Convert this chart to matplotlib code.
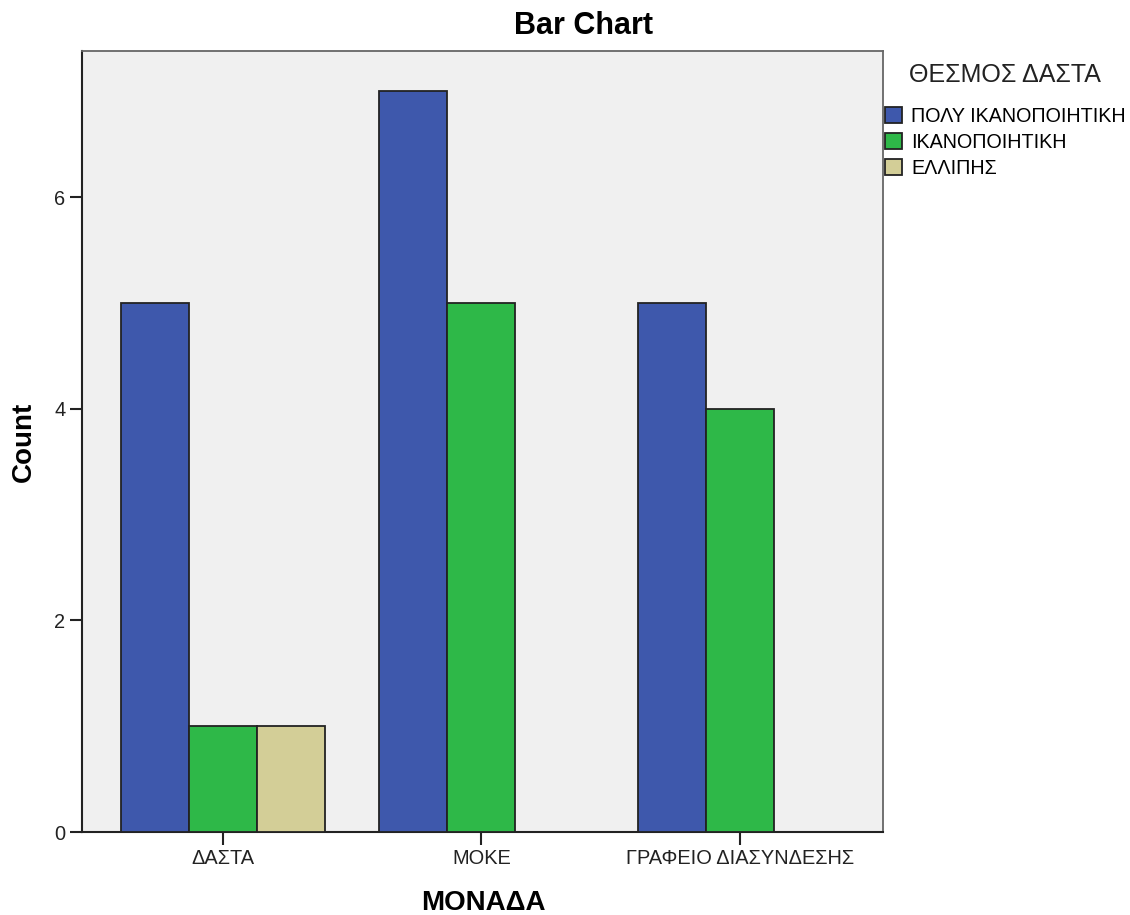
import numpy as np
import matplotlib
matplotlib.use("Agg")
import matplotlib.pyplot as plt

plt.rcParams["font.family"] = ["Liberation Sans", "DejaVu Sans"]

# Data
units = ["ΔΑΣΤΑ", "ΜΟΚΕ", "ΓΡΑΦΕΙΟ ΔΙΑΣΥΝΔΕΣΗΣ"]
ratings = ["ΠΟΛΥ ΙΚΑΝΟΠΟΙΗΤΙΚΗ", "ΙΚΑΝΟΠΟΙΗΤΙΚΗ", "ΕΛΛΙΠΗΣ"]
very_good = [5, 7, 5]
good = [1, 5, 4]
poor = [1, 0, 0]
counts = [very_good, good, poor]
colors = ["#3E58AC", "#2EB848", "#D3CE97"]

fig = plt.figure(figsize=(11.3, 9.15), dpi=100)
ax = fig.add_axes([82 / 1130, 1 - 832 / 915, (883 - 82) / 1130, (832 - 51) / 915])
ax.set_facecolor("#F0F0F0")

x = np.arange(len(units))
width = 0.263
handles = []
for i, (vals, col, lab) in enumerate(zip(counts, colors, ratings)):
    offset = (i - 1) * width
    # SPSS leaves the slot empty when a count is zero
    xs = [xi + offset for xi, v in zip(x, vals) if v > 0]
    hs = [v for v in vals if v > 0]
    b = ax.bar(xs, hs, width=width, color=col, edgecolor="#222222",
               linewidth=1.3, label=lab, zorder=3)
    handles.append(b)

ax.set_xlim(-0.545, 2.553)
ax.set_ylim(0, 7.38)
ax.set_xticks(x)
ax.set_xticklabels(units, fontsize=14.4, color="#222222")
ax.set_yticks([0, 2, 4, 6])
ax.set_yticklabels(["0", "2", "4", "6"], fontsize=14.4, color="#222222")
ax.tick_params(axis="both", length=9, width=1.5, color="#222222", pad=3)

for side in ["left", "bottom"]:
    ax.spines[side].set_color("#222222")
    ax.spines[side].set_linewidth(1.5)
for side in ["top", "right"]:
    ax.spines[side].set_color("#666666")
    ax.spines[side].set_linewidth(1.3)

fig.text(583 / 1130, 1 - 26 / 915, "Bar Chart", fontsize=22, fontweight="bold",
         ha="center", va="center")
fig.text(24 / 1130, 1 - 442 / 915, "Count", fontsize=20, fontweight="bold",
         ha="center", va="center", rotation=90)
fig.text(483 / 1130, 1 - 903 / 915, "ΜΟΝΑΔΑ", fontsize=20, fontweight="bold",
         ha="center", va="center")

# legend
fig.text(909 / 1130, 1 - 75 / 915, "ΘΕΣΜΟΣ ΔΑΣΤΑ", fontsize=18, color="#222222",
         ha="left", va="center")
fig.legend(handles=handles, labels=ratings, loc="upper left",
           bbox_to_anchor=(885 / 1130, 1 - 107 / 915), frameon=False,
           fontsize=14.2, handlelength=0.87, handleheight=0.87,
           handletextpad=0.45, labelspacing=0.36, borderpad=0, borderaxespad=0)

fig.savefig("out.png", dpi=100)
